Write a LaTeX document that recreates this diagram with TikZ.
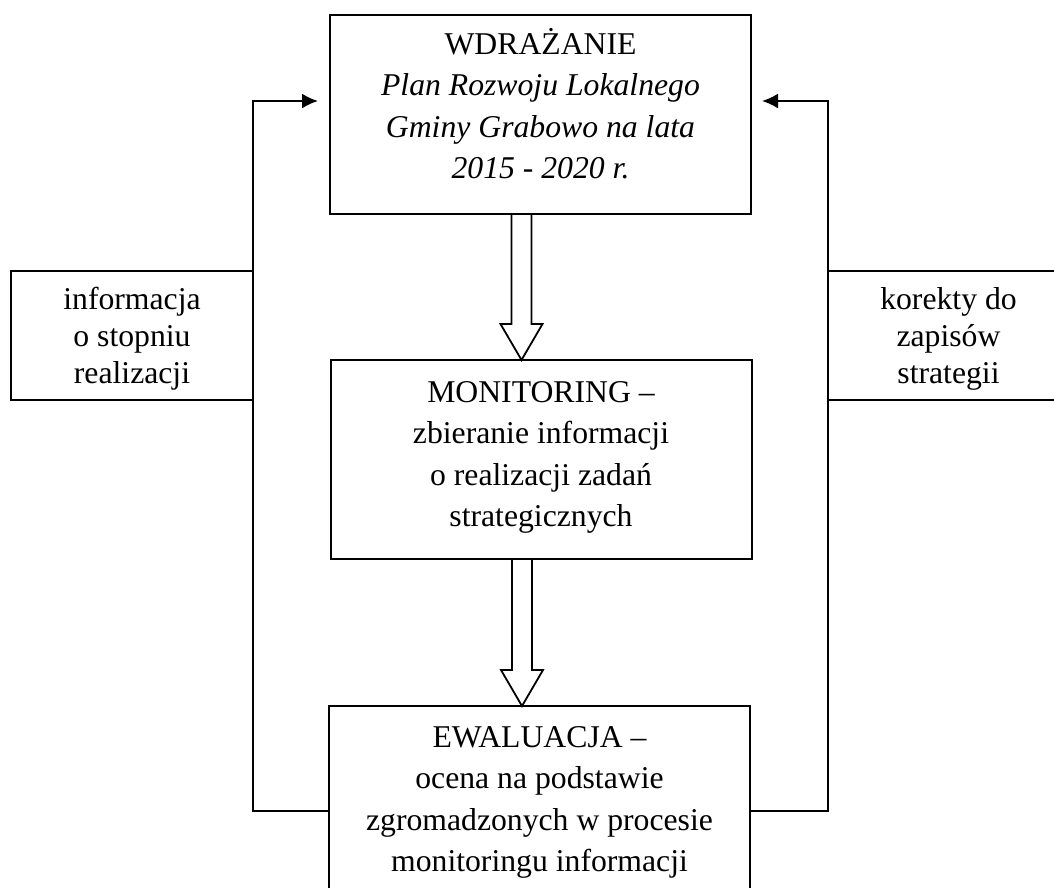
\documentclass[tikz,border=0pt]{standalone}
\usepackage{fontspec}
\setmainfont{Liberation Serif}
\usetikzlibrary{arrows.meta,calc}
\newcommand{\fatarrow}[2]{%
  \draw[fat] let \p1=([xshift=-19pt]#1.south), \p2=(#2.north) in
    (\x1-10pt,\y1) -- (\x1-10pt,\y2+36pt) -- (\x1-21pt,\y2+36pt) -- (\x1,\y2)
    -- (\x1+21pt,\y2+36pt) -- (\x1+10pt,\y2+36pt) -- (\x1+10pt,\y1);}
\begin{document}
\begin{tikzpicture}[x=1pt, y=-1pt, line width=2pt,
    box/.style={draw, align=center, inner sep=0pt, outer sep=0pt, minimum width=421pt, minimum height=199pt, font=\fontsize{31.7}{41.5}\selectfont},
    side/.style={draw, align=center, inner sep=0pt, outer sep=0pt, minimum width=242pt, minimum height=129pt, font=\fontsize{31.7}{37}\selectfont},
    fb/.style={-{Latex[length=16pt,width=15pt]}},
    fat/.style={line width=1.8pt, line join=miter}]
   \useasboundingbox (0,0) rectangle (1054,887);
   \clip (0,0) rectangle (1054,887);
   \node[box] (wdr) at (540.5,114.5) {\rule{0pt}{30pt}WDRAŻANIE\\ \textit{Plan Rozwoju Lokalnego}\\ \textit{Gminy Grabowo na lata}\\ \textit{2015 - 2020 r.}\rule[-26pt]{0pt}{26pt}};
   \node[box] (mon) at (541,459.5) {\rule{0pt}{30pt}MONITORING –\\ zbieranie informacji\\ o realizacji zadań\\ strategicznych\rule[-20pt]{0pt}{20pt}};
   \node[box, minimum height=210pt] (ewa) at (539.5,811) {\rule{0pt}{30pt}EWALUACJA –\\ ocena na podstawie\\ zgromadzonych w procesie\\ monitoringu informacji\rule[-33.5pt]{0pt}{33.5pt}};
   \node[side] (inf) at (132,335.5) {\rule{0pt}{30pt}informacja\\ o stopniu\\ realizacji\rule[-8pt]{0pt}{8pt}};
   \node[side, minimum width=241pt] (kor) at (948.5,335.5) {\rule{0pt}{30pt}korekty do\\ zapisów\\ strategii\rule[-8pt]{0pt}{8pt}};
   \coordinate (lin) at (318,101);
   \coordinate (rin) at (762,101);
   \draw[fb] (ewa.west) -| (inf.east) |- (lin);
   \draw[fb] (ewa.east) -| (kor.west) |- (rin);
   \fatarrow{wdr}{mon}
   \fatarrow{mon}{ewa}
\end{tikzpicture}
\end{document}
